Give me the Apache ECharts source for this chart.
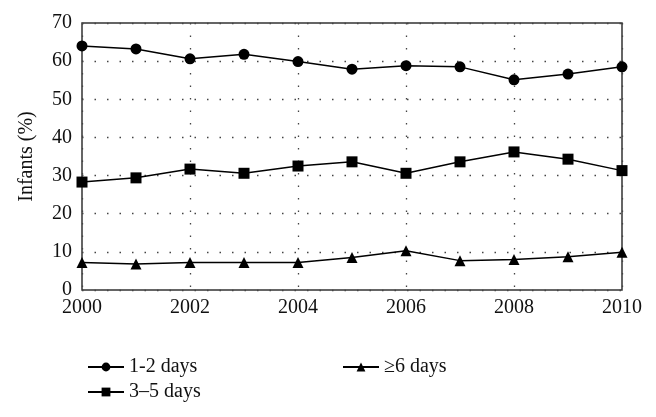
<!DOCTYPE html>
<html><head><meta charset="utf-8">
<script src="https://cdn.jsdelivr.net/npm/echarts@6/dist/echarts.min.js"></script>
<style>html,body{margin:0;padding:0;background:#fff}#c{width:656px;height:417px}</style>
</head><body><div id="c"></div>
<script>
const years = [2000,2001,2002,2003,2004,2005,2006,2007,2008,2009,2010];
const days12 = [64.0,63.2,60.6,61.8,59.9,57.9,58.8,58.5,55.1,56.6,58.5];
const days35 = [28.3,29.4,31.7,30.6,32.5,33.6,30.6,33.6,36.2,34.3,31.3];
const days6 = [7.2,6.8,7.2,7.2,7.2,8.5,10.3,7.7,8.0,8.7,9.9];
const seriesNames = ['1-2 days','3\u20135 days','\u22656 days'];
const font = 'Liberation Serif';
const pair = a => years.map((y,i)=>[y,a[i]]);
const mk = (name, data, sym) => ({
  name, type:'line', data: pair(data), symbol: sym, symbolSize: 11,
  lineStyle:{color:'#000', width:1.5}, itemStyle:{color:'#000'}, z: 5
});
const dotted = {show:true,lineStyle:{type:[1.5,11],color:'#444',width:1.3}};
const chart = echarts.init(document.getElementById('c'));
chart.setOption({
  animation:false,
  grid:{left:82,right:34,top:23,bottom:127,show:true,borderColor:'#333',borderWidth:1.5,backgroundColor:'transparent'},
  xAxis:{type:'value',min:2000,max:2010,interval:2,
    axisLine:{show:false},axisTick:{show:false},
    axisLabel:{color:'#111',fontFamily:font,fontSize:20,margin:8,formatter:v=>String(v)},
    splitLine:dotted},
  yAxis:{type:'value',min:0,max:70,interval:10,name:'Infants (%)',nameLocation:'middle',nameGap:45,
    nameTextStyle:{color:'#111',fontFamily:font,fontSize:20},
    axisLine:{show:false},axisTick:{show:false},
    axisLabel:{color:'#111',fontFamily:font,fontSize:20,margin:10},
    splitLine:dotted},
  legend:[
    {data:[seriesNames[0],seriesNames[1]],orient:'vertical',left:82,top:352,itemWidth:36,itemHeight:11,itemGap:5,
     textStyle:{color:'#111',fontFamily:font,fontSize:20}},
    {data:[seriesNames[2]],orient:'vertical',left:337,top:352,itemWidth:36,itemHeight:11,itemGap:5,
     textStyle:{color:'#111',fontFamily:font,fontSize:20}}
  ],
  series:[mk(seriesNames[0],days12,'circle'),mk(seriesNames[1],days35,'rect'),mk(seriesNames[2],days6,'triangle')]
});
</script></body></html>
